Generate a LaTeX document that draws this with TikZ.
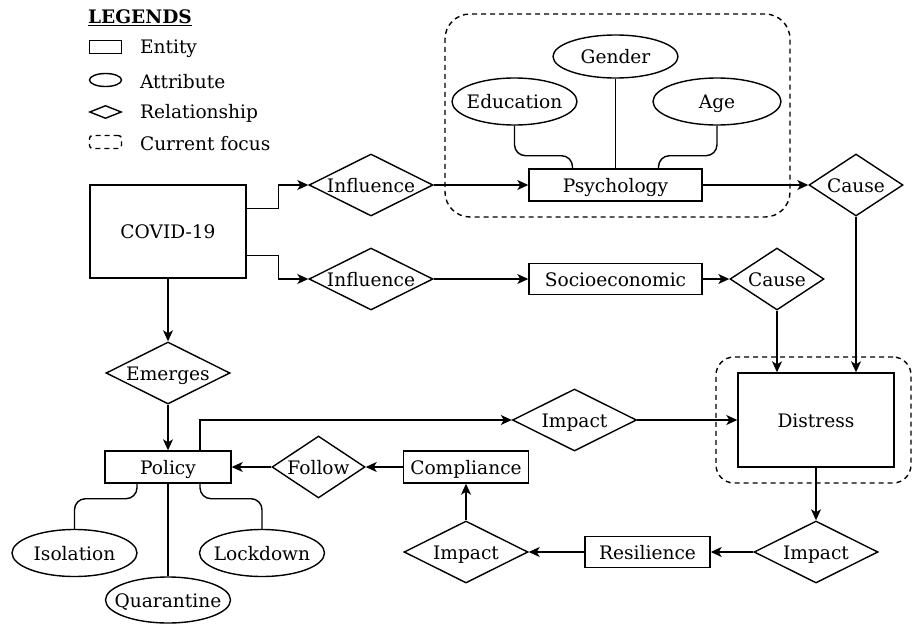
\documentclass[tikz,border=0pt]{standalone}
\usepackage{fontspec}
\setmainfont{DejaVu Serif}
\usetikzlibrary{arrows.meta,shapes.geometric}

\tikzset{
  entity/.style={draw,rectangle,inner sep=0pt,text height=14pt,text depth=0pt,
    minimum width=125pt,minimum height=32pt},
  attrib/.style={draw,ellipse,inner sep=0pt,text height=14pt,text depth=0pt,
    minimum width=125pt,minimum height=47pt,
    execute at begin node={\hbox to 0pt\bgroup\hss},execute at end node={\hss\egroup}},
  relation/.style={draw,diamond,aspect=2,inner sep=0pt,text height=14pt,text depth=0pt,
    minimum width=124pt,minimum height=62pt},
  focus/.style={draw,dash pattern=on 5pt off 4pt,rounded corners=25pt,inner sep=0pt},
  legsym/.style={text height=0pt,minimum width=32pt,minimum height=13pt},
  link/.style={rounded corners=11pt},
  arr/.style={-{Stealth[length=11pt,width=10pt,inset=3pt]}},
}

\begin{document}
\begin{tikzpicture}[x=1pt,y=-1pt,line width=1.4pt,font=\fontsize{18.6}{21}\selectfont]
  \useasboundingbox (0,0) rectangle (913,624);

  % legend
  \node[anchor=west,font=\fontsize{18.6}{21}\selectfont\bfseries] (legTitle) at (84,18) {\underline{LEGENDS}};
  \node[entity,legsym] (legEnt) at (105.5,47) {};
  \node[anchor=west] (legEntTxt) at (136,49) {Entity};
  \node[attrib,legsym] (legAtt) at (105.5,80) {};
  \node[anchor=west] (legAttTxt) at (136,81.5) {Attribute};
  \node[relation,legsym] (legRel) at (105.5,112) {};
  \node[anchor=west] (legRelTxt) at (136,113.5) {Relationship};
  \node[focus,legsym,rounded corners=3pt] (legFoc) at (105.5,142) {};
  \node[anchor=west] (legFocTxt) at (136,144) {Current focus};

  % focus areas
  \node[focus,minimum width=345pt,minimum height=203pt] (psyFocus) at (617.5,115.5) {};
  \node[focus,rounded corners=18pt,minimum width=195pt,minimum height=126pt] (disFocus) at (813.5,420) {};

  % psychology block
  \node[attrib,minimum height=43pt] (gender) at (615.5,56.5) {Gender};
  \node[attrib] (edu) at (514.5,101.5) {Education};
  \node[attrib,minimum width=128pt] (age) at (717,101.5) {Age};
  \node[entity,minimum width=173pt] (psych) at (615.5,185) {Psychology};

  \node[entity,minimum width=156pt,minimum height=93pt] (covid) at (168,231.5) {COVID-19};
  \node[relation] (infl1) at (371,185) {Influence};
  \node[relation] (infl2) at (371,279) {Influence};
  \node[entity,minimum width=173pt,minimum height=31pt] (socio) at (615.5,279) {Socioeconomic};
  \node[relation,minimum width=94pt] (cause1) at (856,185) {Cause};
  \node[relation,minimum width=94pt] (cause2) at (777,279) {Cause};
  \node[entity,minimum width=156pt,minimum height=94pt] (distress) at (816,420) {Distress};

  \node[relation] (emerges) at (168,373) {Emerges};
  \node[entity,minimum width=126pt] (policy) at (168,467) {Policy};
  \node[relation] (impact1) at (574.5,420) {Impact};
  \node[relation] (impact3) at (816,552) {Impact};
  \node[entity,minimum height=31pt] (resil) at (647.5,552) {Resilience};
  \node[relation] (impact2) at (466,552) {Impact};
  \node[entity] (compl) at (466,467) {Compliance};
  \node[relation,minimum width=93pt] (follow) at (318.5,467) {Follow};

  \node[attrib] (isol) at (74.5,553) {Isolation};
  \node[attrib,minimum height=46pt] (quar) at (168,600) {Quarantine};
  \node[attrib] (lock) at (262,553) {Lockdown};

  % arrows
  \draw[arr] ([yshift=23pt]covid.east) -- ++(32,0) |- (infl1);
  \draw[arr] ([yshift=-24pt]covid.east) -- ++(32,0) |- (infl2);
  \draw[arr] (infl1) -- (psych);
  \draw[arr] (psych) -- (cause1);
  \draw[arr] (infl2) -- (socio);
  \draw[arr] (socio) -- (cause2);
  \draw[arr] (cause1) -- (cause1 |- distress.north);
  \draw[arr] (cause2) -- (cause2 |- distress.north);
  \draw[arr] (covid) -- (emerges);
  \draw[arr] (emerges) -- (policy);
  \draw[arr] ([xshift=32pt]policy.north) |- (impact1);
  \draw[arr] (impact1) -- (distress);
  \draw[arr] (distress) -- (impact3);
  \draw[arr] (impact3) -- (resil);
  \draw[arr] (resil) -- (impact2);
  \draw[arr] (impact2) -- (compl);
  \draw[arr] (compl) -- (follow);
  \draw[arr] (follow) -- (policy);

  % attribute links
  \draw[link] (edu.south) -- ++(0,30) -| ([xshift=-43pt]psych.north);
  \draw[link] (age.south) -- ++(0,30) -| ([xshift=43pt]psych.north);
  \draw (gender) -- (psych);
  \draw[link] ([xshift=-31pt]policy.south) -- ++(0,15) -| (isol.north);
  \draw[link] ([xshift=32pt]policy.south) -- ++(0,15) -| (lock.north);
  \draw (policy) -- (quar);
\end{tikzpicture}
\end{document}
